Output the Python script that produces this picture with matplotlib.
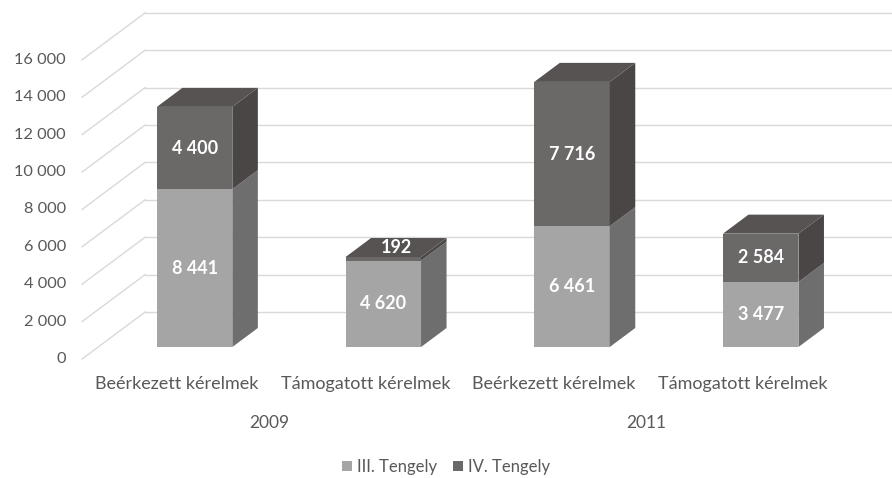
import matplotlib
matplotlib.use("Agg")
import matplotlib.pyplot as plt
from matplotlib.patches import Polygon, Rectangle

plt.rcParams['font.family'] = ['Lato', 'DejaVu Sans']

# data
categories = ["Beérkezett kérelmek", "Támogatott kérelmek",
              "Beérkezett kérelmek", "Támogatott kérelmek"]
years = ["2009", "2011"]
series_names = ["III. Tengely", "IV. Tengely"]
tengely_3 = [8441, 4620, 6461, 3477]
tengely_4 = [4400, 192, 7716, 2584]
y_ticks = list(range(0, 16001, 2000))

# colours: front, side, top
light = ("#a5a5a5", "#6e6e6e", "#8a8a8a")
dark = ("#6b6868", "#4a4646", "#585353")
grid_col = "#d9d9d9"
text_col = "#595959"

# fake 3d: depth of the whole floor in data units
DX, DY = 0.334, 2513
bar_w = 0.4
bar_front, bar_back = 0.255, 0.66

fig = plt.figure(figsize=(8.92, 4.78), dpi=100)
ax = fig.add_axes([0, 0, 1, 1])
ax.set_xlim(-0.946, 3.781)
ax.set_ylim(-6364, 19198)
ax.axis("off")

# back wall gridlines + diagonal floor lines
x0 = -0.511
for v in y_ticks:
    ax.plot([x0, x0 + DX], [v, v + DY], color=grid_col, lw=1, zorder=1)
    ax.plot([x0 + DX, 3.781], [v + DY, v + DY], color=grid_col, lw=1, zorder=1)
    ax.text(x0 - 0.085, v, f"{v:,}".replace(",", " "), ha="right", va="center",
            fontsize=11.8, color=text_col)

fx, fy = DX * bar_front, DY * bar_front
ddx, ddy = DX * (bar_back - bar_front), DY * (bar_back - bar_front)


def draw_segment(i, bottom, h, cols, top):
    xl = i + fx - bar_w / 2
    xr = i + fx + bar_w / 2
    yb = bottom + fy
    yt = bottom + h + fy
    ax.add_patch(Rectangle((xl, yb), bar_w, h, facecolor=cols[0],
                           edgecolor="none", zorder=3))
    ax.add_patch(Polygon([(xr, yb), (xr, yt), (xr + ddx, yt + ddy), (xr + ddx, yb + ddy)],
                         facecolor=cols[1], edgecolor="none", zorder=3))
    if top:
        ax.add_patch(Polygon([(xl, yt), (xr, yt), (xr + ddx, yt + ddy), (xl + ddx, yt + ddy)],
                             facecolor=cols[2], edgecolor="none", zorder=3))
    label = f"{h:,}".replace(",", " ")
    if h < 1000:
        # too thin, put the label on the top face
        lx, ly = i + fx + ddx / 2, yt + ddy / 2
    else:
        lx, ly = i + fx, bottom + fy + h / 2
    ax.text(lx, ly, label, ha="center", va="center", color="white",
            fontsize=13, fontweight="bold", zorder=5)


for i in range(len(categories)):
    draw_segment(i, 0, tengely_3[i], light, False)
    draw_segment(i, tengely_3[i], tengely_4[i], dark, True)

for i, c in enumerate(categories):
    ax.text(i - 0.01, -1330, c, ha="center", va="center", fontsize=13, color=text_col)
for j, yr in enumerate(years):
    ax.text(2 * j + 0.48, -3400, yr, ha="center", va="center", fontsize=12.5, color=text_col)

handles = [Rectangle((0, 0), 1, 1, facecolor=light[0]),
           Rectangle((0, 0), 1, 1, facecolor=dark[0])]
fig.legend(handles, series_names, loc="center", bbox_to_anchor=(0.5, 0.023),
           ncol=2, frameon=False, fontsize=12, labelcolor=text_col,
           handlelength=0.55, handleheight=0.55, handletextpad=0.3, columnspacing=1.0)

fig.savefig("out.png", dpi=100)
